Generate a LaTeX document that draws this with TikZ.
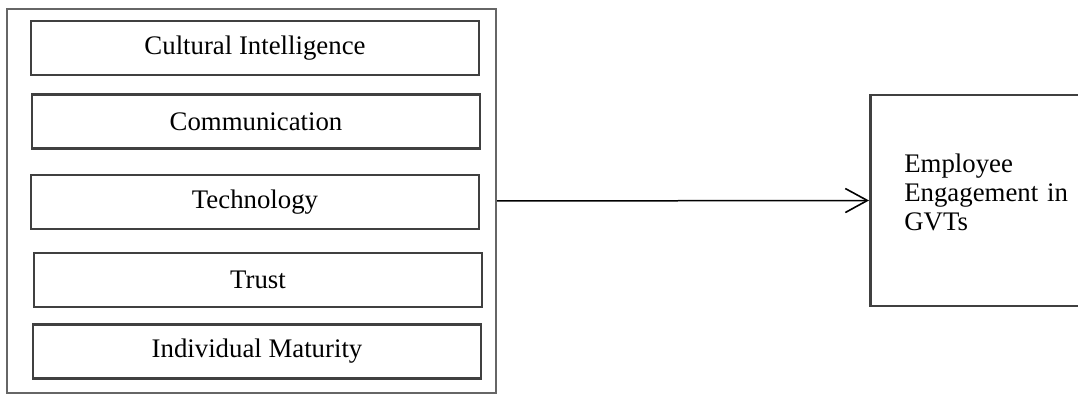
\documentclass[tikz,border=0pt]{standalone}
\usepackage{fontspec}
\setmainfont{Liberation Serif}
\usetikzlibrary{arrows.meta}
\definecolor{BoxClr}{HTML}{404040}

\begin{document}
\begin{tikzpicture}[x=0.5pt,y=-0.5pt,
  factor/.style={draw=BoxClr,line width=1.3pt,minimum width=224pt,minimum height=27pt,inner sep=0pt},
  group/.style={draw=BoxClr!80,line width=1pt,minimum width=244.5pt,minimum height=192pt,inner sep=0pt},
  outcome/.style={draw=BoxClr,line width=1.3pt,align=left,text width=90pt,inner xsep=17pt,minimum height=105.5pt,anchor=west},
  link/.style={line width=0.75pt,-{Straight Barb[length=11pt,width=12pt,line width=0.8pt]}}]
\useasboundingbox (0,0) rectangle (1078,394);
\fontsize{13.4}{14.5}\selectfont

\node[group] (outer) at (251.5,201) {};

\node[factor] (cq) at (255,48) {Cultural Intelligence};
\node[factor] (comm) at (256,121.5) {Communication};
\node[factor] (tech) at (255,202) {Technology};
\node[factor] (trust) at (258,280) {Trust};
\node[factor] (mat) at (257,351.5) {Individual Maturity};

\node[outcome] (eng) at (869,200.5) {Employee\\Engagement in\\GVTs\rule[-8pt]{0pt}{8pt}};

\draw[link] (outer.east) -- (eng.west);

\end{tikzpicture}
\end{document}
